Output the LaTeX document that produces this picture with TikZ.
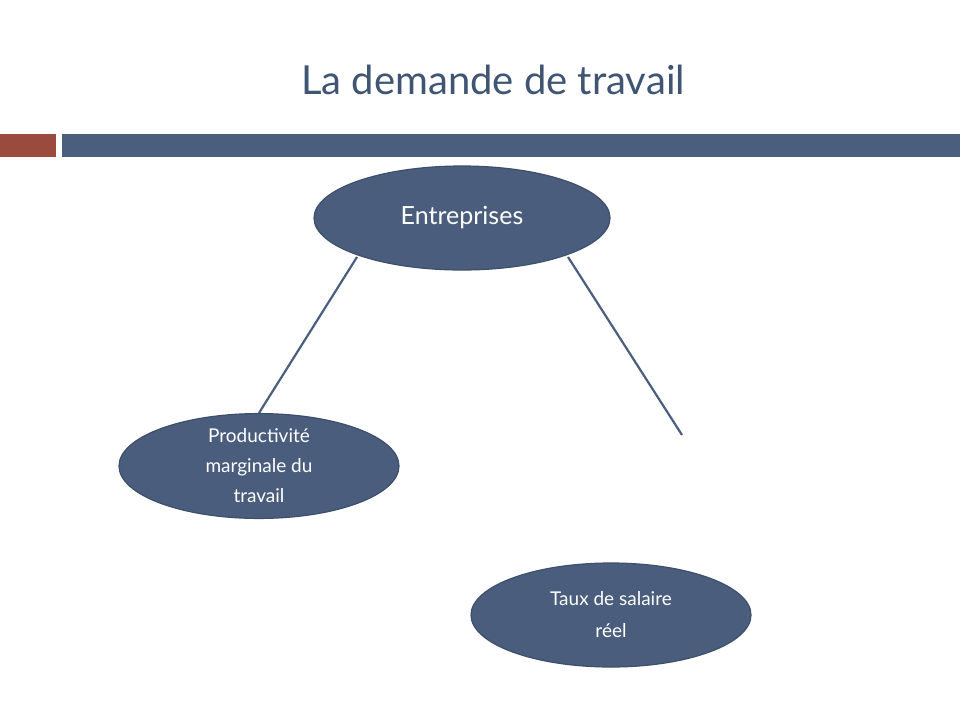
\documentclass[tikz,border=0pt]{standalone}
\usepackage{fontspec}
\setmainfont{Lato}
\usetikzlibrary{shapes.geometric}
\begin{document}
\begin{tikzpicture}[x=1pt,y=-1pt,
  ell/.style={ellipse,fill=nodeblue,draw=nodeedge,line width=1.2pt,text=white,align=center,inner sep=0pt},
  conn/.style={draw=lineblue,line width=2.2pt}]
\definecolor{nodeblue}{HTML}{4A5D7C}
\definecolor{nodeedge}{HTML}{3E4F6B}
\definecolor{lineblue}{HTML}{4A5F7E}
\definecolor{titleblue}{HTML}{3F5573}
\definecolor{barred}{HTML}{9B4A3E}
\useasboundingbox (0,0) rectangle (960,720);
\fill[white] (0,0) rectangle (960,720);
\node[text=titleblue,font=\fontsize{40}{44}\selectfont] (title) at (493,80) {La demande de travail};
\fill[barred] (0,134) rectangle (56,157);
\fill[lineblue] (62,134) rectangle (960,157);
\node[ell,minimum width=296pt,minimum height=104pt,font=\fontsize{25}{28}\selectfont] (ent) at (462,218) {Entreprises};
\node[ell,minimum width=280pt,minimum height=104pt,font=\fontsize{19}{30}\selectfont] (pm) at (259,466) {Productivité\\marginale du\\travail};
\node[ell,minimum width=280pt,minimum height=104pt,font=\fontsize{19}{32}\selectfont] (ts) at (611,615) {Taux de salaire\\réel};
\coordinate (e1) at (357,257);
\coordinate (e2) at (568,257);
\coordinate (free) at (682,435);
\draw[conn] (e1) -- (pm.north);
\draw[conn] (e2) -- (free);
\end{tikzpicture}
\end{document}
